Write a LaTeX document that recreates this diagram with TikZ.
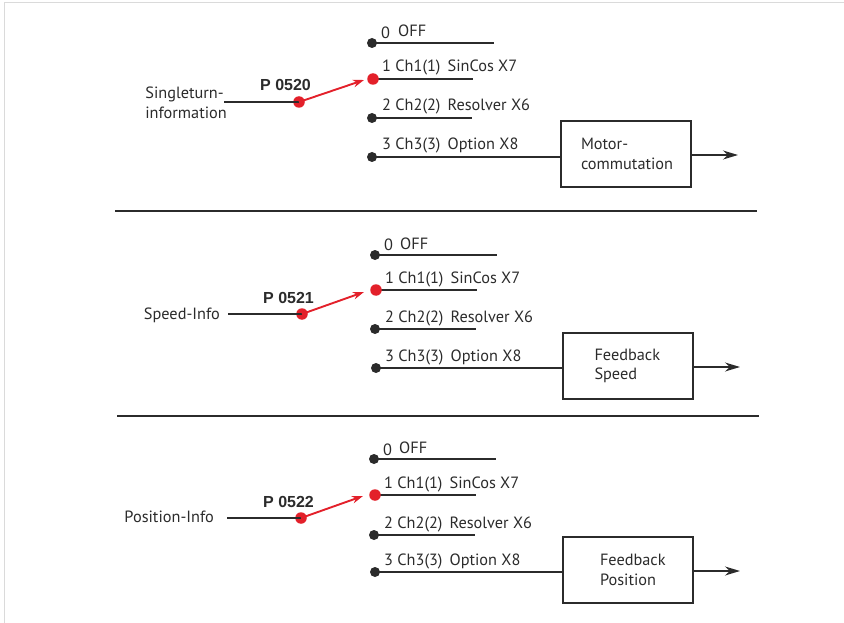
\documentclass[tikz,border=0pt]{standalone}
\usepackage{fontspec}
\setmainfont{PT Sans}
\newfontfamily\paramfont{Liberation Sans}
\usetikzlibrary{arrows.meta}
\definecolor{wire}{HTML}{2B2B2B}
\definecolor{sel}{HTML}{E3202A}
\definecolor{frame}{HTML}{DADADA}
\begin{document}
\begin{tikzpicture}[x=1pt,y=-1pt,
  txt/.style={font=\fontsize{16.3}{19.5}\selectfont, inner sep=0pt, text=wire},
  chan/.style={txt, anchor=base west},
  param/.style={font=\paramfont\fontsize{16}{19}\selectfont\bfseries, inner sep=0pt, anchor=base west, text=wire},
  wireline/.style={draw=wire, line width=1.3pt},
  contact/.style={circle, fill=wire, inner sep=0pt, minimum size=10pt},
  selcontact/.style={circle, fill=sel, inner sep=0pt, minimum size=11.5pt},
  lever/.style={draw=sel, line width=1.9pt, -{Stealth[length=11pt,width=7.5pt]}},
  funcbox/.style={draw=wire, line width=1.1pt, minimum width=130pt, minimum height=66pt,
                  txt, align=left, inner sep=0pt},
  outarrow/.style={draw=wire, line width=1.5pt, -{Stealth[length=15pt,width=9pt]}},
  separator/.style={draw=wire, line width=2pt}
]
\useasboundingbox (0,0) rectangle (844,623);
% outer frame
\draw[frame, line width=1pt] (4,623) -- (4,2.5) -- (844,2.5);

% ---------- Singleturn information ----------
\node[contact] (a0) at (372,43) {};
\coordinate (a0e) at (494,43);
\draw[wireline] (a0.center) -- (a0e);
\node[chan] (a0n) at (381,39) {0};
\node[chan] (a0t) at (398,37) {OFF};

\coordinate (a1e) at (473,79);
\draw[wireline] (373,79) -- (a1e);
\node[selcontact] (a1) at (373,79) {};
\node[chan] (a1t) at (382,72) {1 Ch1(1)\, SinCos X7};

\node[contact] (a2) at (372,118) {};
\coordinate (a2e) at (472,118);
\draw[wireline] (a2.center) -- (a2e);
\node[chan] (a2t) at (382,111) {2 Ch2(2)\, Resolver X6};

\node[contact] (a3) at (372,157) {};
\node[chan] (a3t) at (382,150) {3 Ch3(3)\, Option X8};

\node[funcbox, text width=90pt] (abox) at (626,154) {Motor-\\commutation};
\draw[wireline] (a3.center) -- (a3.center -| abox.west);
\coordinate (aout) at (738,155);
\draw[outarrow] (abox.east |- aout) -- (aout);

\node[txt, align=left, anchor=east] (ain) at (227,103) {Singleturn-\\information};
\node[selcontact] (ap) at (299,102) {};
\draw[wireline] (224,102) -- (ap.center);
\node[param] (apl) at (260,91) {P 0520};
\coordinate (atip) at (364,80);
\draw[lever] (ap.center) -- (atip);

\coordinate (s1a) at (115,211);
\coordinate (s1b) at (757,211);
\draw[separator] (s1a) -- (s1b);

% ---------- Speed information ----------
\node[contact] (b0) at (375,255) {};
\coordinate (b0e) at (497,255);
\draw[wireline] (b0.center) -- (b0e);
\node[chan] (b0n) at (384,251) {0};
\node[chan] (b0t) at (400,249) {OFF};

\coordinate (b1e) at (477,290);
\draw[wireline] (376,290) -- (b1e);
\node[selcontact] (b1) at (376,290) {};
\node[chan] (b1t) at (385,283) {1 Ch1(1)\, SinCos X7};

\node[contact] (b2) at (375,329) {};
\coordinate (b2e) at (476,329);
\draw[wireline] (b2.center) -- (b2e);
\node[chan] (b2t) at (385,322) {2 Ch2(2)\, Resolver X6};

\node[contact] (b3) at (376,368) {};
\node[chan] (b3t) at (385,361) {3 Ch3(3)\, Option X8};

\node[funcbox, text width=67pt] (bbox) at (628,366) {Feedback\\Speed};
\draw[wireline] (b3.center) -- (b3.center -| bbox.west);
\coordinate (bout) at (740,367);
\draw[outarrow] (bbox.east |- bout) -- (bout);

\node[txt, anchor=base east] (bin) at (220,319) {Speed-Info};
\node[selcontact] (bp) at (302,314) {};
\draw[wireline] (228,314) -- (bp.center);
\node[param] (bpl) at (263,303) {P 0521};
\coordinate (btip) at (364,292);
\draw[lever] (bp.center) -- (btip);

\coordinate (s2a) at (117,416);
\coordinate (s2b) at (759,416);
\draw[separator] (s2a) -- (s2b);

% ---------- Position information ----------
\node[contact] (c0) at (374,459) {};
\coordinate (c0e) at (496,459);
\draw[wireline] (c0.center) -- (c0e);
\node[chan] (c0n) at (383,455) {0};
\node[chan] (c0t) at (399,453) {OFF};

\coordinate (c1e) at (476,495);
\draw[wireline] (375,495) -- (c1e);
\node[selcontact] (c1) at (375,495) {};
\node[chan] (c1t) at (384,488) {1 Ch1(1)\, SinCos X7};

\node[contact] (c2) at (374,535) {};
\coordinate (c2e) at (475,535);
\draw[wireline] (c2.center) -- (c2e);
\node[chan] (c2t) at (384,528) {2 Ch2(2)\, Resolver X6};

\node[contact] (c3) at (375,572) {};
\node[chan] (c3t) at (384,565) {3 Ch3(3)\, Option X8};

\node[funcbox, text width=56pt] (cbox) at (628,570) {Feedback\\Position};
\draw[wireline] (c3.center) -- (c3.center -| cbox.west);
\coordinate (cout) at (740,571);
\draw[outarrow] (cbox.east |- cout) -- (cout);

\node[txt, anchor=base east] (cin) at (214,522) {Position-Info};
\node[selcontact] (cp) at (301,518) {};
\draw[wireline] (227,518) -- (cp.center);
\node[param] (cpl) at (263,507) {P 0522};
\coordinate (ctip) at (363,496);
\draw[lever] (cp.center) -- (ctip);
\end{tikzpicture}
\end{document}
